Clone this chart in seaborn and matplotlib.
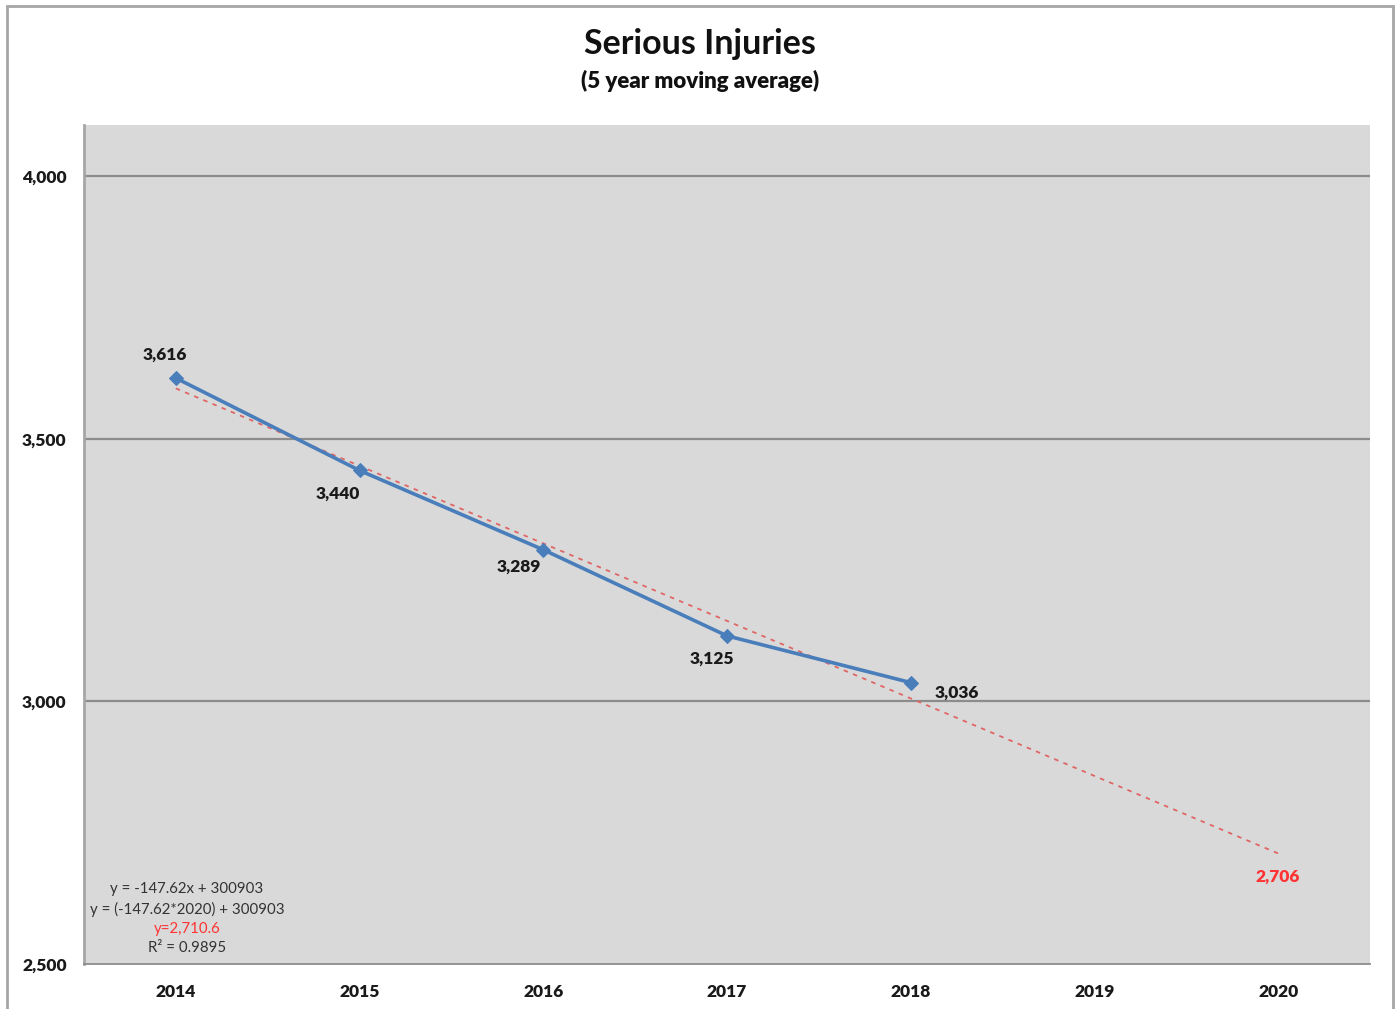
import matplotlib
matplotlib.use("Agg")
import matplotlib.pyplot as plt
import seaborn as sns
import numpy as np
import pandas as pd
from matplotlib.patches import Rectangle
from matplotlib.ticker import FuncFormatter, FixedLocator

# ---- data ----
years = [2014, 2015, 2016, 2017, 2018]
values = [3616, 3440, 3289, 3125, 3036]
axis_years = [2014, 2015, 2016, 2017, 2018, 2019, 2020]
trend_slope = -147.62
trend_intercept = 300903
trend_years = [2014, 2020]
forecast_label = "2,706"
eq_lines = ["y = -147.62x + 300903", "y = (-147.62*2020) + 300903", "y=2,710.6", "R\u00b2 = 0.9895"]
y_ticks = [2500, 3000, 3500, 4000]

sns.set_theme(style="white")
plt.rcParams['font.family'] = ['Lato', 'DejaVu Sans']

fig = plt.figure(figsize=(13.95, 10.09), dpi=100)
fig.patch.set_facecolor("white")
W, H = 1395, 1009
# outer frame
fig.patches.append(Rectangle((7 / W, -0.01), (1393 - 7) / W, (H - 6) / H + 0.01,
                             transform=fig.transFigure, fill=False,
                             edgecolor="#a6a6a6", linewidth=2.0, zorder=0))

ax = fig.add_axes([84 / W, 1 - 964 / H, (1370 - 84) / W, (964 - 125) / H])
ax.set_facecolor("#d9d9d9")

df = pd.DataFrame({"year": years, "value": values})
trend_df = pd.DataFrame({"year": trend_years,
                         "value": [trend_slope * y + trend_intercept for y in trend_years]})

sns.lineplot(data=trend_df, x="year", y="value", ax=ax, color="#e06666",
             linewidth=1.3, linestyle=(0, (2.5, 3)), zorder=3)
sns.lineplot(data=df, x="year", y="value", ax=ax, color="#4a7ebb",
             linewidth=2.6, marker="D", markersize=7, markeredgecolor="#4a7ebb", zorder=4)

ax.set_xlim(2013.5, 2020.5)
ax.set_ylim(2500, 4098)
ax.set_xlabel("")
ax.set_ylabel("")

for yv in y_ticks[1:]:
    ax.axhline(yv, color="#8c8c8c", linewidth=1.6, zorder=1)

ax.set_yticks(y_ticks)
ax.yaxis.set_major_formatter(FuncFormatter(lambda v, p: f"{int(v):,}"))
ax.set_xticks(axis_years)
ax.set_xticklabels([str(y) for y in axis_years])
ax.xaxis.set_minor_locator(FixedLocator([y + 0.5 for y in [2013] + axis_years]))
ax.tick_params(axis="x", which="major", length=0, pad=14.5, labelsize=12.5, labelcolor="#1a1a1a")
ax.tick_params(axis="x", which="minor", length=6, width=1.3, color="#8c8c8c", direction="out")
ax.tick_params(axis="y", which="major", length=7, width=1.3, color="#8c8c8c", direction="out",
               pad=5.5, labelsize=12.5, labelcolor="#1a1a1a")
for lab in ax.get_xticklabels() + ax.get_yticklabels():
    lab.set_fontweight("heavy")

for s in ["top", "right"]:
    ax.spines[s].set_visible(False)
ax.spines["left"].set_color("#a6a6a6")
ax.spines["left"].set_linewidth(2.0)
ax.spines["bottom"].set_color("#8c8c8c")
ax.spines["bottom"].set_linewidth(1.3)

# data labels
offsets = [(-11, 23), (-22, -23), (-24, -17), (-15, -23), (46, -10)]
for (yr, v), (dx, dy) in zip(zip(years, values), offsets):
    ax.annotate(f"{v:,}", (yr, v), xytext=(dx, dy), textcoords="offset pixels",
                ha="center", va="center", fontsize=12.5, fontweight="heavy", color="#1a1a1a", zorder=5)
ax.annotate(forecast_label, (2020, trend_slope * 2020 + trend_intercept), xytext=(0, -23),
            textcoords="offset pixels", ha="center", va="center", fontsize=12.5,
            fontweight="heavy", color="#ff3333", zorder=5)

# equation block
eq_y = [889, 909, 929, 948]
eq_colors = ["#333333", "#333333", "#ff3333", "#333333"]
for txt, yp, c in zip(eq_lines, eq_y, eq_colors):
    fig.text(187 / W, 1 - yp / H, txt, ha="center", va="center", fontsize=10.8, color=c)

fig.text(700 / W, 1 - 44 / H, "Serious Injuries", ha="center", va="center",
         fontsize=24.5, fontweight="bold", color="#111111")
fig.text(700 / W, 1 - 81 / H, "(5 year moving average)", ha="center", va="center",
         fontsize=16, fontweight="heavy", color="#111111")

fig.savefig("out.png", dpi=100, facecolor="white")
